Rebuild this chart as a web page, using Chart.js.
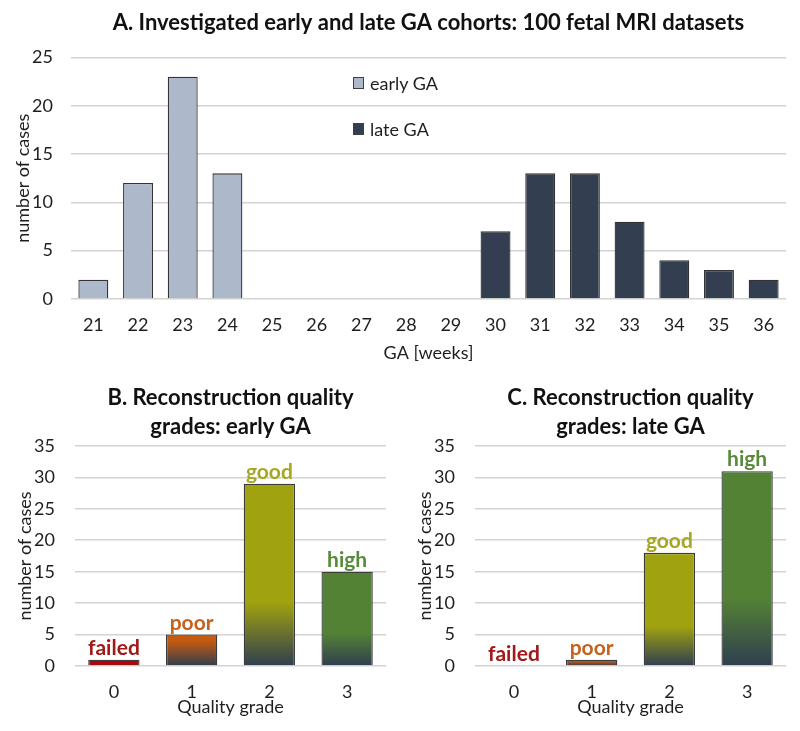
<!DOCTYPE html>
<html lang="en">
<head>
  <meta charset="UTF-8">
  <title>Fetal MRI cohorts and reconstruction quality</title>
  <style>
    body {
      margin: 0;
      background: #ffffff;
      font-family: Lato, 'Open Sans', sans-serif;
    }
    .page {
      position: relative;
      width: 800px;
      height: 731px;
    }
    .box { position: absolute; }
    #boxA { left: 0; top: 0; width: 800px; height: 365px; }
    #boxB { left: 0; top: 365px; width: 400px; height: 366px; }
    #boxC { left: 400px; top: 365px; width: 400px; height: 366px; }
    /* legend of chart A, placed inside the plot */
    #legendA {
      position: absolute;
      left: 353px;
      top: 72px;
      font-size: 18px;
      color: #1e1e1e;
    }
    #legendA .row {
      display: flex;
      align-items: center;
      height: 22px;
      margin-bottom: 24px;
    }
    #legendA .sw {
      display: inline-block;
      width: 9px;
      height: 10px;
      border: 1px solid #404040;
      margin-right: 6px;
    }
  </style>
  <script src="https://cdn.jsdelivr.net/npm/chart.js"></script>
</head>
<body>
  <div class="page">
    <div class="box" id="boxA"><canvas id="chartA" width="800" height="365"></canvas></div>
    <div id="legendA"></div>
    <div class="box" id="boxB"><canvas id="chartB" width="400" height="366"></canvas></div>
    <div class="box" id="boxC"><canvas id="chartC" width="400" height="366"></canvas></div>
  </div>

  <script>
    // --- data ---
    const gaWeeks = ['21', '22', '23', '24', '25', '26', '27', '28', '29', '30', '31', '32', '33', '34', '35', '36'];
    const earlyCases = [2, 12, 23, 13, null, null, null, null, null, null, null, null, null, null, null, null];
    const lateCases = [null, null, null, null, null, null, null, null, null, 7, 13, 13, 8, 4, 3, 2];

    const grades = ['0', '1', '2', '3'];
    const gradeNames = ['failed', 'poor', 'good', 'high'];
    const earlyGrades = [1, 5, 29, 15];
    const lateGrades = [0, 1, 18, 31];

    // --- styles ---
    const textColor = '#1e1e1e';
    const gridColor = '#d3d3d3';
    const font = 'Lato';
    const barColors = ['#c00000', '#c55a11', '#a0a20f', '#548235'];
    const labelColors = ['#a31818', '#c5621d', '#a6a724', '#578a39'];
    const darkBottom = '#2f3e50';

    // bars fade into dark slate over their lower third
    function gradeFill(context) {
      const chart = context.chart;
      const y = chart.scales.y;
      const base = barColors[context.dataIndex];
      if (!chart.chartArea || !y) return base;
      const top = y.getPixelForValue(context.raw);
      const bottom = y.getPixelForValue(0);
      if (bottom - top < 1) return base;
      const g = chart.ctx.createLinearGradient(0, top, 0, bottom);
      g.addColorStop(0, base);
      g.addColorStop(context.dataIndex === 1 ? 0.2 : 0.65, base);
      g.addColorStop(1, darkBottom);
      return g;
    }

    // grade name written above every bar
    const gradeLabels = {
      id: 'gradeLabels',
      afterDatasetsDraw(chart) {
        const ctx = chart.ctx;
        const meta = chart.getDatasetMeta(0);
        ctx.save();
        ctx.font = 'bold 21px ' + font;
        ctx.textAlign = 'center';
        ctx.textBaseline = 'alphabetic';
        meta.data.forEach((bar, i) => {
          ctx.fillStyle = labelColors[i];
          ctx.fillText(gradeNames[i], bar.x, bar.y - 5);
        });
        ctx.restore();
      }
    };

    Chart.defaults.font.family = font;
    Chart.defaults.color = textColor;

    // --- A. cohorts ---
    new Chart(document.getElementById('chartA'), {
      type: 'bar',
      data: {
        labels: gaWeeks,
        datasets: [
          { label: 'early GA', data: earlyCases, backgroundColor: '#adb9ca', borderColor: '#333333', borderWidth: 1.3 },
          { label: 'late GA', data: lateCases, backgroundColor: '#333f50', borderColor: '#333333', borderWidth: 1.3 }
        ]
      },
      options: {
        responsive: false,
        animation: false,
        layout: { padding: { left: 0, right: 14, top: 0, bottom: 0 } },
        datasets: { bar: { grouped: false, categoryPercentage: 1, barPercentage: 0.67 } },
        plugins: {
          legend: { display: false },
          tooltip: { enabled: false },
          title: {
            display: true,
            fullSize: false,
            text: 'A. Investigated early and late GA cohorts: 100 fetal MRI datasets',
            font: { size: 22, weight: 'bold' },
            color: '#111111',
            padding: { top: 10, bottom: 21 }
          }
        },
        scales: {
          x: {
            grid: { display: false, drawTicks: false },
            border: { display: false },
            ticks: { padding: 15, font: { size: 18 } },
            title: { display: true, text: 'GA [weeks]', font: { size: 18 }, padding: { top: 0, bottom: 1 } },
            afterFit: s => { s.height = 66; }
          },
          y: {
            min: 0,
            max: 25,
            ticks: { stepSize: 5, padding: 18, font: { size: 18 } },
            grid: { color: gridColor, lineWidth: 1.6, drawTicks: false },
            border: { display: false },
            title: { display: true, text: 'number of cases', font: { size: 18 }, padding: { top: 12, bottom: 0 } },
            afterFit: s => { s.width = 71; }
          }
        }
      }
    });

    // legend for chart A, built from the same labels and colours
    const legendA = document.getElementById('legendA');
    [['early GA', '#adb9ca'], ['late GA', '#333f50']].forEach(([name, col]) => {
      const row = document.createElement('div');
      row.className = 'row';
      row.innerHTML = '<span class="sw" style="background:' + col + '"></span>' + name;
      legendA.appendChild(row);
    });

    // --- B / C. quality grades ---
    function gradeChart(id, titleLines, values) {
      return new Chart(document.getElementById(id), {
        type: 'bar',
        data: {
          labels: grades,
          datasets: [{
            data: values,
            backgroundColor: gradeFill,
            borderColor: '#3c3c3c',
            borderWidth: ctx => (ctx.raw > 0 ? 1.3 : 0)
          }]
        },
        plugins: [gradeLabels],
        options: {
          responsive: false,
          animation: false,
          layout: { padding: { left: 0, right: 14, top: 0, bottom: 0 } },
          datasets: { bar: { categoryPercentage: 1, barPercentage: 0.66 } },
          plugins: {
            legend: { display: false },
            tooltip: { enabled: false },
            title: {
              display: true,
              fullSize: false,
              text: titleLines,
              font: { size: 22, weight: 'bold', lineHeight: '29px' },
              color: '#111111',
              padding: { top: 18, bottom: 5 }
            }
          },
          scales: {
            x: {
              grid: { display: false, drawTicks: false },
              border: { display: false },
              ticks: { padding: 15, font: { size: 18 } },
              title: { display: true, text: 'Quality grade', font: { size: 18 }, padding: { top: 0, bottom: 13 } },
              afterFit: s => { s.height = 65; }
            },
            y: {
              min: 0,
              max: 35,
              ticks: { stepSize: 5, padding: 20, font: { size: 18 } },
              grid: { color: gridColor, lineWidth: 1.6, drawTicks: false },
              border: { display: false },
              title: { display: true, text: 'number of cases', font: { size: 18 }, padding: { top: 14, bottom: 0 } },
              afterFit: s => { s.width = 75; }
            }
          }
        }
      });
    }

    gradeChart('chartB', ['B. Reconstruction quality', 'grades: early GA'], earlyGrades);
    gradeChart('chartC', ['C. Reconstruction quality', 'grades: late GA'], lateGrades);
  </script>
</body>
</html>
